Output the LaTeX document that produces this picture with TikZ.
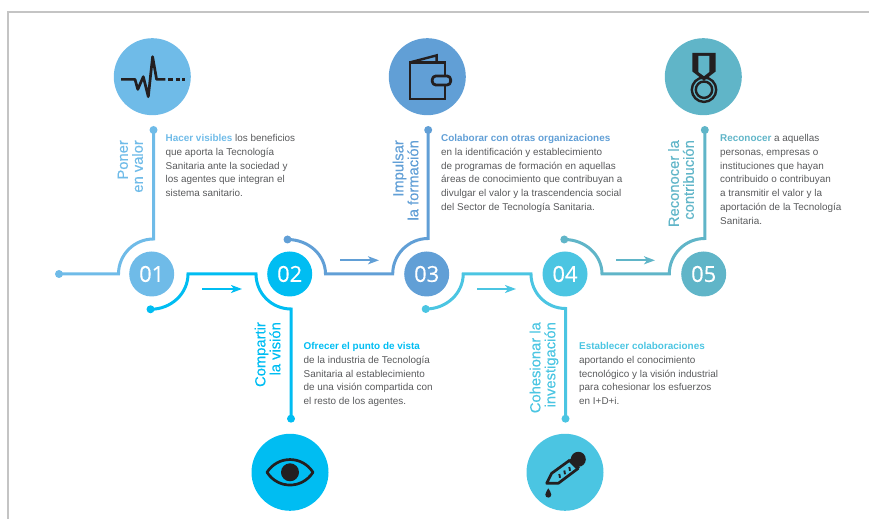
\documentclass[tikz,border=0pt]{standalone}
\usepackage{fontspec}
\setmainfont{Liberation Sans}
\newfontfamily\numfont[FakeBold=0.35]{Open Sans}
\newfontfamily\titlefont[FakeBold=0.3]{Liberation Sans}
\usetikzlibrary{arrows.meta}
\definecolor{cA}{HTML}{6FBBE8}
\definecolor{cB}{HTML}{00BDF2}
\definecolor{cC}{HTML}{619FD6}
\definecolor{cD}{HTML}{4BC5E2}
\definecolor{cE}{HTML}{60B5C8}
\definecolor{txt}{HTML}{58595B}
\definecolor{ink}{HTML}{231F20}
\definecolor{frame}{HTML}{C4C4C4}
\tikzset{
  numdisc/.style={circle,minimum size=45bp,inner sep=0pt,text=white,font=\numfont\fontsize{22}{22}\selectfont},
  icondisc/.style={circle,minimum size=77bp,inner sep=0pt},
  enddot/.style={circle,minimum size=8bp,inner sep=0pt},
  track/.style={line width=3bp},
  flow/.style={line width=2bp,-{Stealth[length=11bp,width=8bp,inset=3bp]}},
  body/.style={anchor=north west,align=left,inner sep=0pt,text=txt,font=\fontsize{9.95}{13.75}\selectfont},
  vlabel/.style={anchor=north east,rotate=90,align=right,inner sep=0pt,font=\titlefont\fontsize{14.8}{15}\selectfont},
  glyph/.style={draw=ink,line width=2.7bp,line join=round}
}
\begin{document}
\begin{tikzpicture}[x=1bp,y=1bp]
\useasboundingbox (0,0) rectangle (869,519);
\draw[frame,line width=1.5bp] (8,0) -- (8,507) -- (869,507);

% number discs
\node[numdisc,fill=cA] (n1) at (151.7,245) {01};
\node[numdisc,fill=cB] (n2) at (289.7,245) {02};
\node[numdisc,fill=cC] (n3) at (426.7,245) {03};
\node[numdisc,fill=cD] (n4) at (565,245) {04};
\node[numdisc,fill=cE] (n5) at (703.7,245) {05};

% end dots
\node[enddot,fill=cA] (s1) at (59,245) {};
\node[enddot,fill=cA] (e1) at (153.5,389) {};
\node[enddot,fill=cB] (s2) at (150.5,209.7) {};
\node[enddot,fill=cB] (e2) at (291,100.3) {};
\node[enddot,fill=cC] (s3) at (287.5,279.5) {};
\node[enddot,fill=cC] (e3) at (428.2,389) {};
\node[enddot,fill=cD] (s4) at (425.7,210) {};
\node[enddot,fill=cD] (e4) at (565.5,100.3) {};
\node[enddot,fill=cE] (s5) at (564.3,279.5) {};
\node[enddot,fill=cE] (e5) at (704.8,389) {};

% tracks
\draw[track,cA] (s1.center) -- (118.5,245) arc[start angle=180,end angle=90,radius=35] -- (e1.center);
\draw[track,cB] (s2.center) arc[start angle=270,end angle=360,x radius=37.5,y radius=35.3] -- (256,245) arc[start angle=180,end angle=270,radius=35] -- (e2.center);
\draw[track,cC] (s3.center) arc[start angle=90,end angle=0,x radius=38,y radius=34.5] -- (392.7,245) arc[start angle=180,end angle=90,radius=35.5] -- (e3.center);
\draw[track,cD] (s4.center) arc[start angle=270,end angle=360,x radius=37.5,y radius=35] -- (531,245) arc[start angle=180,end angle=270,radius=34.5] -- (e4.center);
\draw[track,cE] (s5.center) arc[start angle=90,end angle=0,x radius=37.7,y radius=34.5] -- (669.3,245) arc[start angle=180,end angle=90,radius=35.5] -- (e5.center);

% flow arrows
\coordinate (f1a) at (202,230); \coordinate (f1b) at (242,230);
\coordinate (f2a) at (340,258.7); \coordinate (f2b) at (379,258.7);
\coordinate (f3a) at (477,230); \coordinate (f3b) at (516,230);
\coordinate (f4a) at (616,258.7); \coordinate (f4b) at (655,258.7);
\draw[flow,cB] (f1a) -- (f1b);
\draw[flow,cC] (f2a) -- (f2b);
\draw[flow,cD] (f3a) -- (f3b);
\draw[flow,cE] (f4a) -- (f4b);

% icon discs
\node[icondisc,fill=cA] (i1) at (152.3,442.3) {};
\node[icondisc,fill=cB] (i2) at (290,46.7) {};
\node[icondisc,fill=cC] (i3) at (427.3,442.3) {};
\node[icondisc,fill=cD] (i4) at (565,46.7) {};
\node[icondisc,fill=cE] (i5) at (703.3,442.3) {};

% pulse icon
\begin{scope}[shift={(i1.center)}]
\draw[glyph] (-31.3,-2.7) -- (-17.3,-2.7) -- (-14.5,-12.7) -- (-9,0) -- (-4,-20) -- (0.3,20) -- (4.3,-2.7) -- (13,-2.7);
\draw[glyph] (15.5,-2.7) -- (20.5,-2.7) (23.5,-2.7) -- (28,-2.7) (30,-2.7) -- (32.5,-2.7);
\end{scope}

% eye icon
\begin{scope}[shift={(i2.center)}]
\draw[glyph] (-23,0) .. controls (-12,17) and (12,17) .. (23,0) .. controls (12,-17) and (-12,-17) .. (-23,0) -- cycle;
\fill[ink] (0,0) circle (9);
\end{scope}

% wallet icon
\begin{scope}[shift={(i3.center)}]
\draw[glyph,line width=2.8bp,line join=miter] (5,-22.3) -- (-17.3,-22.3) -- (-17.3,14.3) -- (17.7,14.3) -- (17.7,-22.3) -- (5,-22.3);
\draw[glyph,line width=2.4bp,line join=miter,miter limit=2] (-17.3,14.3) -- (9.3,21.3) -- (9.3,14.3);
\draw[glyph,line width=2.8bp,fill=cC,rounded corners=3.5bp] (5,-8.3) rectangle (23.3,0.7);
\end{scope}

% dropper icon
\begin{scope}[shift={(i4.center)}]
\draw[glyph] (5,12.3) -- (-13.3,-1) -- (-18.3,-11) -- (-6.7,-11) -- (13.3,4);
\draw[ink,line width=3.6bp] (4.5,12.5) -- (13.5,3.5);
\fill[ink] (13.3,13) circle (7.5);
\draw[ink,line width=1.9bp] (-5,-5.5) -- (-5.7,-1.7) (0,-2) -- (-0.7,1.8) (5,1.5) -- (4.3,5.3);
\fill[ink] (-16.7,-16) .. controls (-17.5,-18) and (-19.7,-20) .. (-19.7,-22.3) .. controls (-19.7,-26.3) and (-13.7,-26.3) .. (-13.7,-22.3) .. controls (-13.7,-20) and (-15.9,-18) .. (-16.7,-16) -- cycle;
\end{scope}

% medal icon
\begin{scope}[shift={(i5.center)}]
\fill[ink] (-11,23.7) -- (12.4,23.7) -- (12.4,5.3) -- (5,-0.5) -- (0.7,-4) -- (-3.6,-0.5) -- (-11,5.3) -- cycle;
\fill[cE] (-5,20.7) -- (6,20.7) -- (6,4.8) -- (0.7,0.6) -- (-5,4.8) -- cycle;
\draw[ink,line width=2.4bp] (0.7,-13) circle (12.2);
\draw[ink,line width=2.4bp] (0.7,-13) circle (8.2);
\end{scope}

% vertical titles
\node[vlabel,text=cA] (t1) at (117.5,379) {Poner\\en valor};
\node[vlabel,text=cB] (t2) at (254.5,197) {Compartir\\la visión};
\node[vlabel,text=cC] (t3) at (392.5,379) {Impulsar\\la formación};
\node[vlabel,text=cD] (t4) at (529.5,197) {Cohesionar la\\investigación};
\node[vlabel,text=cE] (t5) at (668,379) {Reconocer la\\contribución};

% body texts
\node[body] (b1) at (165.5,384.5) {\textcolor{cA}{\textbf{Hacer visibles}} los beneficios\\que aporta la Tecnología\\Sanitaria ante la sociedad y\\los agentes que integran el\\sistema sanitario.};
\node[body] (b2) at (303.5,176.5) {\textcolor{cB}{\textbf{Ofrecer el punto de vista}}\\de la industria de Tecnología\\Sanitaria al establecimiento\\de una visión compartida con\\el resto de los agentes.};
\node[body] (b3) at (441,384.5) {\textcolor{cC}{\textbf{Colaborar con otras organizaciones}}\\en la identificación y establecimiento\\de programas de formación en aquellas\\áreas de conocimiento que contribuyan a\\divulgar el valor y la trascendencia social\\del Sector de Tecnología Sanitaria.};
\node[body] (b4) at (579,176.5) {\textcolor{cD}{\textbf{Establecer colaboraciones}}\\aportando el conocimiento\\tecnológico y la visión industrial\\para cohesionar los esfuerzos\\en I+D+i.};
\node[body] (b5) at (720,384.5) {\textcolor{cE}{\textbf{Reconocer}} a aquellas\\personas, empresas o\\instituciones que hayan\\contribuido o contribuyan\\a transmitir el valor y la\\aportación de la Tecnología\\Sanitaria.};
\end{tikzpicture}
\end{document}
